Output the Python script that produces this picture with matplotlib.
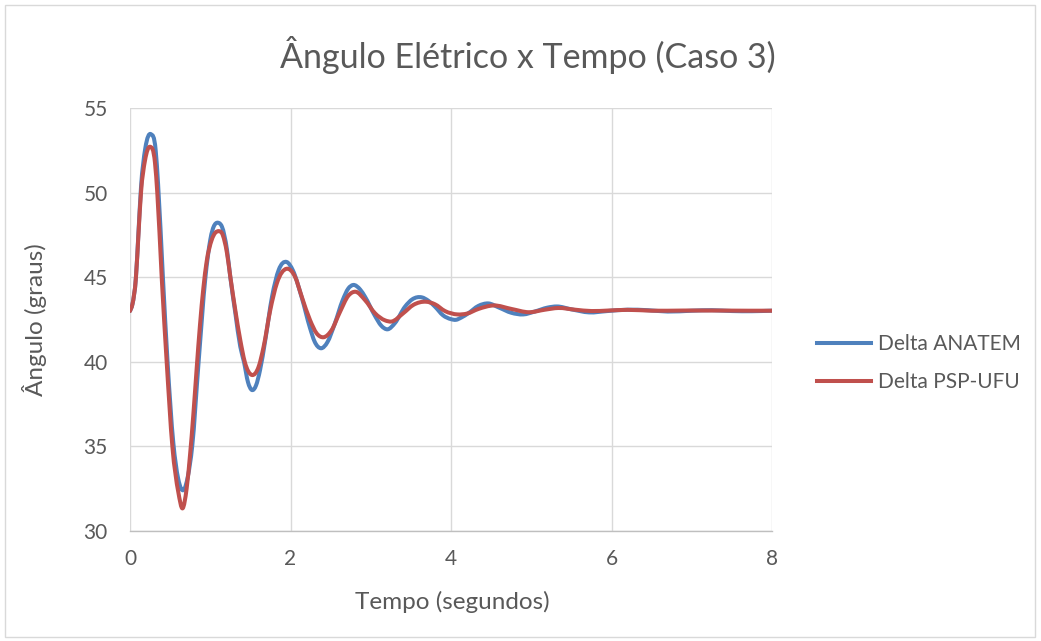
import numpy as np
import matplotlib
matplotlib.use("Agg")
import matplotlib.pyplot as plt
from matplotlib.path import Path
from matplotlib.patches import PathPatch, Rectangle
from matplotlib.lines import Line2D

plt.rcParams['font.family'] = ['Lato', 'DejaVu Sans']

# Rotor angle (degrees) versus time (s)
t_anatem = [0.00, 0.03, 0.074, 0.105, 0.137, 0.19, 0.262, 0.32, 0.35, 0.41, 0.468, 0.54,
            0.60, 0.673, 0.72, 0.775, 0.855, 0.94, 1.00, 1.11, 1.146, 1.209, 1.25, 1.312,
            1.374, 1.42, 1.47, 1.52, 1.57, 1.62, 1.686, 1.77, 1.853, 1.952, 2.03, 2.14,
            2.243, 2.30, 2.38, 2.46, 2.55, 2.65, 2.72, 2.78, 2.87, 2.928, 3.053, 3.13,
            3.21, 3.30, 3.427, 3.52, 3.635, 3.72, 3.80, 3.90, 4.00, 4.06, 4.13, 4.216,
            4.34, 4.465, 4.60, 4.75, 4.90, 5.05, 5.20, 5.32, 5.50, 5.72, 5.95, 6.20,
            6.45, 6.70, 7.00, 7.25, 7.50, 7.75, 8.00]
delta_anatem = [43.0, 43.4, 45.0, 47.6, 50.3, 52.6, 53.45, 52.5, 50.5, 45.0, 40.0, 35.2,
                33.1, 32.45, 33.2, 35.0, 40.0, 45.0, 47.2, 48.2, 47.98, 46.6, 45.0, 42.9,
                40.9, 40.0, 38.8, 38.33, 38.6, 39.5, 41.29, 43.85, 45.43, 45.9, 45.4, 43.8,
                42.0, 41.2, 40.8, 41.16, 42.23, 43.64, 44.33, 44.54, 44.26, 43.85, 42.71, 42.14,
                41.92, 42.28, 43.26, 43.7, 43.81, 43.6, 43.26, 42.75, 42.52, 42.48, 42.62, 42.87,
                43.3, 43.45, 43.2, 42.9, 42.8, 42.98, 43.2, 43.27, 43.1, 42.92, 43.0, 43.08,
                43.05, 42.97, 43.02, 43.05, 43.0, 42.99, 43.02]

t_psp = [0.00, 0.03, 0.074, 0.105, 0.137, 0.187, 0.25, 0.312, 0.34, 0.395, 0.457, 0.528,
         0.602, 0.656, 0.706, 0.748, 0.789, 0.831, 0.872, 0.914, 0.955, 1.018, 1.11, 1.146,
         1.209, 1.25, 1.312, 1.374, 1.43, 1.52, 1.603, 1.665, 1.748, 1.83, 1.952, 2.056,
         2.14, 2.243, 2.326, 2.409, 2.513, 2.617, 2.72, 2.81, 2.928, 3.053, 3.178, 3.26,
         3.405, 3.53, 3.69, 3.80, 3.925, 4.08, 4.20, 4.34, 4.53, 4.756, 4.97, 5.171,
         5.337, 5.545, 5.75, 5.96, 6.20, 6.50, 6.90, 7.30, 7.70, 8.00]
delta_psp = [43.0, 43.4, 45.0, 47.5, 50.0, 51.9, 52.71, 51.73, 50.0, 45.0, 40.0, 35.0,
             32.3, 31.34, 32.52, 34.49, 36.86, 39.62, 42.17, 44.34, 45.92, 47.2, 47.72, 47.6,
             46.41, 45.03, 43.06, 41.29, 40.0, 39.22, 39.71, 40.89, 43.06, 44.64, 45.5, 45.03,
             43.85, 42.47, 41.68, 41.45, 41.88, 42.95, 43.9, 44.14, 43.65, 42.87, 42.45, 42.38,
             42.87, 43.36, 43.55, 43.4, 43.0, 42.8, 42.85, 43.12, 43.33, 43.12, 42.93, 43.08,
             43.18, 43.08, 43.0, 43.03, 43.07, 43.02, 43.03, 43.03, 43.02, 43.02]

series = [("Delta ANATEM", t_anatem, delta_anatem, "#4F81BD"),
          ("Delta PSP-UFU", t_psp, delta_psp, "#C0504D")]

x_ticks = [0, 2, 4, 6, 8]
y_ticks = [30, 35, 40, 45, 50, 55]

TEXT = "#595959"
W, H = 1041, 641


def smooth_path(x, y):
    """Bezier path through every sample (smoothed line)."""
    x = np.asarray(x, float)
    y = np.asarray(y, float)
    h = np.diff(x)
    d = np.diff(y) / h
    m = np.empty_like(y)
    m[0], m[-1] = d[0], d[-1]
    m[1:-1] = (h[1:] * d[:-1] + h[:-1] * d[1:]) / (h[:-1] + h[1:])
    verts = [(x[0], y[0])]
    codes = [Path.MOVETO]
    for i in range(len(x) - 1):
        verts += [(x[i] + h[i] / 3, y[i] + m[i] * h[i] / 3),
                  (x[i + 1] - h[i] / 3, y[i + 1] - m[i + 1] * h[i] / 3),
                  (x[i + 1], y[i + 1])]
        codes += [Path.CURVE4] * 3
    return Path(verts, codes)


fig = plt.figure(figsize=(W / 100, H / 100), dpi=100)
ax = fig.add_axes([130 / W, 1 - 531 / H, 642 / W, 423 / H])

handles = []
for label, t, v, color in series:
    patch = PathPatch(smooth_path(t, v), facecolor="none", edgecolor=color,
                      lw=2.9, capstyle="round", joinstyle="round", zorder=3)
    ax.add_patch(patch)
    handles.append(Line2D([], [], color=color, lw=2.9, label=label))

ax.set_xlim(0, 8)
ax.set_ylim(30, 55)
ax.set_xticks(x_ticks)
ax.set_yticks(y_ticks)
ax.grid(True, color="#D9D9D9", lw=1.0)
ax.set_axisbelow(True)
for side in ["top", "right", "left"]:
    ax.spines[side].set_visible(False)
ax.spines["bottom"].set_color("#BFBFBF")
ax.spines["bottom"].set_linewidth(1.0)
ax.tick_params(axis="both", length=0, labelsize=15, colors=TEXT)
ax.tick_params(axis="x", pad=13)
ax.tick_params(axis="y", pad=16)

fig.text(528 / W, 1 - 55 / H, "Ângulo Elétrico x Tempo (Caso 3)", fontsize=24.5,
         color=TEXT, ha="center", va="center")
fig.text(452 / W, 1 - 602 / H, "Tempo (segundos)", fontsize=17.5,
         color=TEXT, ha="center", va="center")
fig.text(35 / W, 1 - 320 / H, "Ângulo (graus)", fontsize=17.5, rotation=90,
         color=TEXT, ha="center", va="center")

fig.legend(handles=handles, loc="center left", bbox_to_anchor=(817 / W, 1 - 363 / H),
           frameon=False, fontsize=15, handlelength=2.6, handletextpad=0.35,
           labelspacing=0.85, borderpad=0, borderaxespad=0, labelcolor=TEXT)

fig.patches.append(Rectangle((5 / W, 4 / H), 1030 / W, 632 / H,
                             transform=fig.transFigure, fill=False,
                             edgecolor="#D9D9D9", lw=1.0))

fig.savefig("out.png", dpi=100, facecolor="white")
